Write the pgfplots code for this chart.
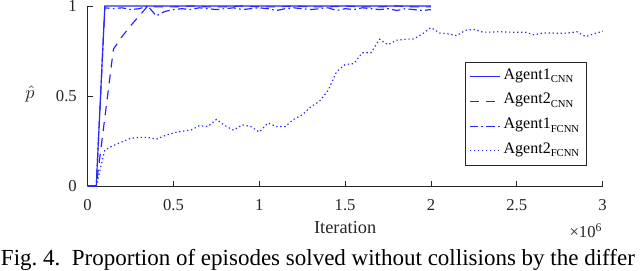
\documentclass[border=0pt]{standalone}
\usepackage{pgfplots}
\pgfplotsset{compat=1.18}
\usepackage{fontspec}
\setmainfont{Liberation Serif}
\definecolor{axgray}{rgb}{0.15,0.15,0.15}
\definecolor{lineblue}{rgb}{0.15,0.15,1}
\newcommand{\sub}[1]{\raisebox{-0.5ex}{\fontsize{6.4}{7}\selectfont #1}}
\begin{document}
\begin{tikzpicture}
\begin{axis}[
  name=ax,
  scale only axis,
  width=309pt, height=108pt,
  xmin=0, xmax=3, ymin=0, ymax=1,
  axis x line*=bottom, axis y line*=left,
  axis line style={-, axgray, line width=0.5pt},
  tick align=inside,
  major tick length=3pt,
  every tick/.style={axgray, line width=0.5pt},
  xtick={0,0.5,1,1.5,2,2.5,3},
  xticklabels={0,0.5,1,1.5,2,2.5,3},
  ytick={0,0.5,1},
  yticklabels={0,0.5,1},
  tick label style={font=\fontsize{10}{12}\selectfont, text=axgray},
  xticklabel style={yshift=-4.5pt},
  yticklabel style={xshift=-3pt},
  xlabel={Iteration},
  every axis x label/.style={at={(axis description cs:0.5,0)}, anchor=base, yshift=-28.6pt, font=\fontsize{11}{13}\selectfont, text=axgray},
  ylabel={$\hat{p}$},
  every axis y label/.style={at={(axis description cs:0,0.5)}, anchor=center, xshift=-34.6pt, yshift=1pt, font=\fontsize{11}{13}\selectfont, text=axgray},
  clip=false,
  legend cell align=left,
  legend style={at={(axis description cs:0.9695,0.111)}, anchor=south east,
    draw=axgray, line width=0.5pt, fill=white, font=\fontsize{9.6}{11}\selectfont,
    inner xsep=2.4pt, inner ysep=1.5pt,
    nodes={inner ysep=1.8pt, text height=7pt, text depth=4.2pt},
    /tikz/every even column/.append style={column sep=0pt}},
  legend image code/.code={\draw[#1, line width=0.6pt] (0pt,0pt) -- (18pt,0pt);},
]
\addplot[lineblue, line width=0.7pt, solid] coordinates {
(0,0) (0.05,0) (0.1,1) (0.5,1) (1,1) (1.5,1) (2,1)};
\addlegendentry{Agent1\sub{CNN}}
\addplot[lineblue, line width=0.7pt, dash pattern=on 5.4pt off 4.2pt] coordinates {
(0,0) (0.05,0) (0.15,0.76) (0.2,0.83) (0.25,0.89) (0.3,0.945) (0.35,1) (0.4,0.995)
(0.5,0.995) (0.6,1) (0.7,0.995) (0.8,0.995) (0.9,1) (1.0,0.995) (1.1,0.995) (1.2,1)
(1.3,0.995) (1.4,0.995) (1.5,1) (1.6,0.995) (1.7,0.995) (1.8,1) (1.9,0.995) (2.0,0.995)};
\addlegendentry{Agent2\sub{CNN}}
\addplot[lineblue, line width=0.7pt, dash pattern=on 5pt off 2pt on 1pt off 2pt] coordinates {
(0,0) (0.05,0) (0.1,0.99) (0.15,0.985) (0.2,0.99) (0.25,0.98) (0.3,0.985) (0.35,1.0)
(0.4,0.945) (0.45,0.97) (0.5,0.98) (0.55,0.985) (0.6,0.98) (0.65,0.99) (0.7,0.985)
(0.75,0.98) (0.8,0.985) (0.85,0.99) (0.9,0.98) (0.95,0.985) (1.0,0.99) (1.05,0.985)
(1.1,0.975) (1.15,0.985) (1.2,0.99) (1.25,0.985) (1.3,0.98) (1.35,0.985) (1.4,0.99)
(1.45,0.975) (1.5,0.985) (1.55,0.98) (1.6,0.99) (1.65,0.985) (1.7,0.98) (1.75,0.985)
(1.8,0.975) (1.85,0.985) (1.9,0.98) (1.95,0.975) (2.0,0.98)};
\addlegendentry{Agent1\sub{FCNN}}
\addplot[lineblue, line width=0.7pt, dash pattern=on 0.8pt off 1.6pt] coordinates {
(0,0) (0.05,0) (0.1,0.20) (0.15,0.225) (0.2,0.245) (0.25,0.265) (0.3,0.27) (0.35,0.27)
(0.4,0.26) (0.45,0.28) (0.5,0.295) (0.55,0.305) (0.6,0.31) (0.65,0.335) (0.7,0.33)
(0.75,0.37) (0.8,0.335) (0.85,0.31) (0.9,0.34) (0.95,0.33) (1.0,0.30) (1.05,0.35)
(1.1,0.33) (1.15,0.33) (1.2,0.37) (1.25,0.395) (1.3,0.44) (1.35,0.47) (1.4,0.53)
(1.45,0.635) (1.5,0.675) (1.55,0.68) (1.6,0.74) (1.65,0.74) (1.7,0.815) (1.75,0.785)
(1.8,0.81) (1.85,0.815) (1.9,0.817) (1.95,0.845) (2.0,0.88) (2.05,0.85) (2.1,0.845)
(2.15,0.835) (2.2,0.865) (2.25,0.87) (2.3,0.855) (2.35,0.855) (2.4,0.857) (2.45,0.855)
(2.5,0.854) (2.55,0.854) (2.6,0.84) (2.65,0.85) (2.7,0.85) (2.75,0.848) (2.8,0.85)
(2.85,0.857) (2.9,0.83) (2.95,0.845) (3.0,0.86)};
\addlegendentry{Agent2\sub{FCNN}}
\end{axis}
\node[anchor=base east, font=\fontsize{10}{12}\selectfont, text=axgray, inner sep=0pt]
  at ([yshift=-30.8pt]ax.south east) {×10\textsuperscript{6}};
\node[anchor=base west, inner sep=0pt, font=\fontsize{13.8}{15}\selectfont]
  at ([xshift=-52.2pt, yshift=-48pt]ax.south west)
  {Fig.~4.\hspace{0.5em}Proportion of episodes solved without collisions by the differ};
\pgfresetboundingbox
\useasboundingbox ([xshift=-52.6pt,yshift=-51pt]ax.south west) rectangle ([xshift=331.4pt,yshift=111.6pt]ax.south west);
\end{tikzpicture}
\end{document}
